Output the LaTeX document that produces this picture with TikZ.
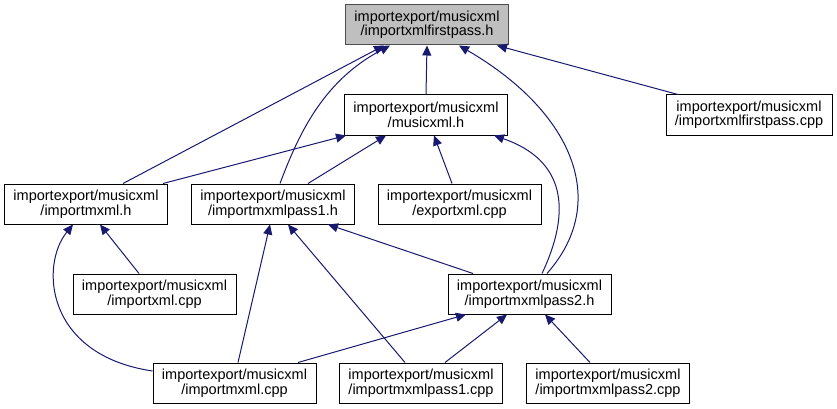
\documentclass[tikz,border=0pt]{standalone}
\usepackage{fontspec}
\setmainfont{Liberation Sans}
\usetikzlibrary{arrows.meta}

\definecolor{edgeblue}{HTML}{191970}
\definecolor{rootfill}{HTML}{BFBFBF}

\begin{document}
\begin{tikzpicture}[x=1pt, y=-1pt,
file/.style={draw=black, line width=1pt, rectangle, minimum width=163pt, 
minimum height=40pt, inner sep=0pt, align=center, 
font={\fontsize{14.5}{14.5}\selectfont}},
dep/.style={draw=edgeblue, line width=1pt, -{Triangle[length=10pt,width=9pt]}}]

\useasboundingbox (0,0) rectangle (837,409);

%top row
\node [file, fill=rootfill, draw=black!70] (firstpass-h) at (427,25) 
{importexport/musicxml\\/importxmlfirstpass.h};


\node [file] (musicxml-h) at (426,115) {importexport/musicxml\\/musicxml.h};

\node [file, minimum width=166pt] (firstpass-cpp) at (749,115) 
{importexport/musicxml\\/importxmlfirstpass.cpp};


\node [file] (importmxml-h) at (86,204) {importexport/musicxml\\/importmxml.h};

\node [file] (pass1-h) at (273,204) {importexport/musicxml\\/importmxmlpass1.h};

\node [file] (exportxml-cpp) at (459.5,204) {importexport/musicxml\\/exportxml.cpp};


\node [file] (importxml-cpp) at (154.5,294) {importexport/musicxml\\/importxml.cpp};

\node [file] (pass2-h) at (529.5,294) {importexport/musicxml\\/importmxmlpass2.h};


%bottom row
\node [file] (importmxml-cpp) at (234.5,383) {importexport/musicxml\\/importmxml.cpp};

\node [file] (pass1-cpp) at (421,383) {importexport/musicxml\\/importmxmlpass1.cpp};

\node [file] (pass2-cpp) at (608,383) {importexport/musicxml\\/importmxmlpass2.cpp};



%edges into importxmlfirstpass.h
\draw [dep] (musicxml-h.north) -- (firstpass-h.south);
\draw [dep] ([xshift=37pt]importmxml-h.north) -- ([xshift=-43pt]firstpass-h.south);
\draw [dep] ([xshift=7pt]pass1-h.north) .. controls (300,130) and (325,80) .. 
([xshift=-37pt]firstpass-h.south);
\draw [dep] ([xshift=-71pt]firstpass-cpp.north) -- ([xshift=70pt]firstpass-h.south);
\draw [dep] ([xshift=17.5pt]pass2-h.north) .. controls (612,200) and (570,110) .. 
([xshift=32pt]firstpass-h.south);

%edges into musicxml.h
\draw [dep] ([xshift=77pt]importmxml-h.north) -- ([xshift=-80pt]musicxml-h.south);
\draw [dep] ([xshift=35pt]pass1-h.north) -- ([xshift=-40pt]musicxml-h.south);
\draw [dep] ([xshift=-7.5pt]exportxml-cpp.north) -- ([xshift=8pt]musicxml-h.south);
\draw [dep] ([xshift=12.5pt]pass2-h.north) .. controls (572,210) and (565,160) .. 
([xshift=68pt]musicxml-h.south);

%edges into importmxml.h
\draw [dep] ([xshift=-15.5pt]importxml-cpp.north) -- ([xshift=14pt]importmxml-h.south);
\draw [dep] ([yshift=12pt]importmxml-cpp.west) .. controls (45,355) and (40,265) .. 
([xshift=-13pt]importmxml-h.south);

%edges into importmxmlpass1.h
\draw [dep] ([xshift=3.5pt]importmxml-cpp.north) -- ([xshift=-3pt]pass1-h.south);
\draw [dep] ([xshift=-16pt]pass1-cpp.north) -- ([xshift=15pt]pass1-h.south);
\draw [dep] ([xshift=-56.5pt]pass2-h.north) -- ([xshift=55pt]pass1-h.south);

%edges into importmxmlpass2.h
\draw [dep] ([xshift=63.5pt]importmxml-cpp.north) -- ([xshift=-63.5pt]pass2-h.south);
\draw [dep] ([xshift=24pt]pass1-cpp.north) -- ([xshift=-22.5pt]pass2-h.south);
\draw [dep] ([xshift=-18pt]pass2-cpp.north) -- ([xshift=15.5pt]pass2-h.south);

\end{tikzpicture}
\end{document}
